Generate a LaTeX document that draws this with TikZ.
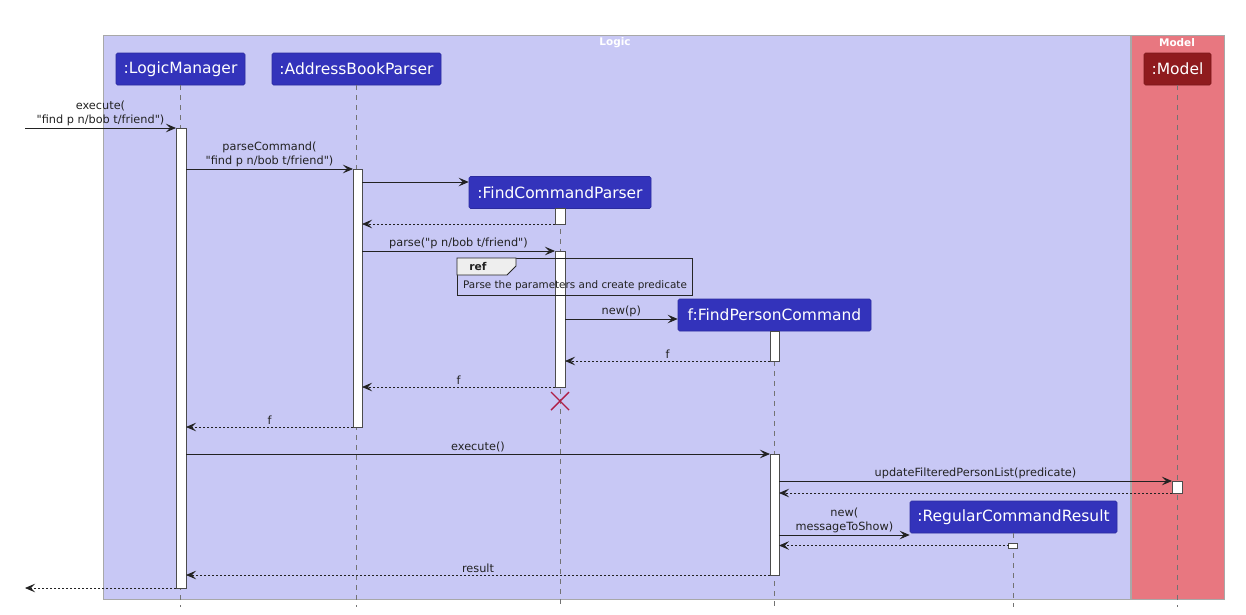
\documentclass[tikz,border=0pt]{standalone}
\usepackage{fontspec}
\newfontfamily\dv{DejaVu Sans}
\definecolor{logicbg}{RGB}{200,200,245}
\definecolor{modelbg}{RGB}{232,119,128}
\definecolor{grpborder}{RGB}{168,168,168}
\definecolor{partblue}{RGB}{51,51,187}
\definecolor{partred}{RGB}{143,27,30}
\definecolor{lline}{RGB}{115,115,115}
\definecolor{txt}{RGB}{34,34,34}
\definecolor{refgray}{RGB}{238,238,238}
\definecolor{xred}{RGB}{175,30,70}
\usetikzlibrary{arrows.meta}
\begin{document}
\begin{tikzpicture}[x=1pt,y=-1pt,
  grp/.style={rectangle, draw=grpborder, line width=1pt, inner sep=0pt, outer sep=0pt, anchor=north west},
  grptitle/.style={text=white, font=\dv\fontsize{10.5}{12}\selectfont\bfseries, inner sep=0pt},
  part/.style={rectangle, rounded corners=1.5pt, fill=partblue, draw=partblue!85!black, text=white,
    font=\dv\fontsize{15.5}{18}\selectfont, inner sep=0pt, minimum height=32pt, line width=0.6pt},
  act/.style={rectangle, draw=black!70, fill=white, minimum width=10pt, inner sep=0pt, outer sep=0pt, line width=0.7pt, anchor=north},
  msg/.style={draw=txt, line width=0.8pt, -{Stealth[length=10pt,width=8.5pt,inset=4pt]}},
  ret/.style={msg, dash pattern=on 2pt off 2pt},
  lbl/.style={font=\dv\fontsize{11.3}{13.3}\selectfont, text=txt, align=center, inner sep=2pt},
  life/.style={draw=lline, dash pattern=on 5pt off 5pt, line width=0.6pt}
]
\dv
\useasboundingbox (0,0) rectangle (1246,614);
% groups
\node[grp, fill=logicbg, minimum width=1027pt, minimum height=564pt] (logic) at (103,35) {};
\node[grp, fill=modelbg, minimum width=93pt, minimum height=564pt] (model) at (1131,35) {};
\node[grptitle] (logict) at (615,43) {Logic};
\node[grptitle] (modelt) at (1177,43) {Model};
% participants
\node[part, minimum width=129pt] (lm) at (180.5,69) {:LogicManager};
\node[part, minimum width=169pt] (abp) at (356.5,69) {:AddressBookParser};
\node[part, minimum width=182pt] (fcp) at (560,192.5) {:FindCommandParser};
\node[part, minimum width=193pt] (fpc) at (774.5,315) {f:FindPersonCommand};
\node[part, minimum width=207pt] (rcr) at (1013.5,517) {:RegularCommandResult};
\node[part, minimum width=67pt, fill=partred, draw=partred!85!black] (mdl) at (1177.5,69) {:Model};
% lifelines
\draw[life] (lm.south) -- (lm.south |- 0,607);
\draw[life] (abp.south) -- (abp.south |- 0,607);
\draw[life] (fcp.south) -- (fcp.south |- 0,607);
\draw[life] (fpc.south) -- (fpc.south |- 0,607);
\draw[life] (rcr.south) -- (rcr.south |- 0,607);
\draw[life] (mdl.south) -- (mdl.south |- 0,607);
% activations
\node[act, minimum height=460pt] (lmA) at (181,128) {};
\node[act, minimum height=258pt, minimum width=9pt] (abpA) at (357.5,169) {};
\node[act, minimum height=16pt] (fcpA1) at (560,208) {};
\node[act, minimum height=136pt] (fcpA2) at (560,251) {};
\node[act, minimum height=30pt, minimum width=9pt] (fpcA1) at (774.5,331) {};
\node[act, minimum height=121pt, minimum width=9pt] (fpcA2) at (774.5,454) {};
\node[act, minimum height=12pt] (mA) at (1177,481) {};
\node[act, minimum height=5pt, minimum width=9pt] (rcrA) at (1013,543) {};
% messages
\coordinate (extin) at (25,128);
\draw[msg] (extin) -- node[lbl,above]{execute(\\"find p n/bob t/friend")} (lmA.north west);
\draw[msg] (lmA.east |- abpA.north) -- node[lbl,above]{parseCommand(\\"find p n/bob t/friend")} (abpA.north west);
\draw[msg] (abpA.east |- 0,182) -- (fcp.west |- 0,182);
\draw[ret] (fcpA1.south west) -- (abpA.east |- fcpA1.south);
\draw[msg] (abpA.east |- fcpA2.north) -- node[lbl,above]{parse("p n/bob t/friend")} (fcpA2.north west);
% ref frame
\node[rectangle, draw=black!85, line width=0.8pt, minimum width=235pt, minimum height=37pt, inner sep=0pt, anchor=north west] (ref) at (457,258) {};
\draw[draw=black!85, fill=refgray, line width=0.8pt] (ref.north west) -- ++(59,0) -- ++(0,8) -- ++(-9,9) -- ++(-50,0) -- cycle;
\node[font=\dv\fontsize{10.7}{12}\selectfont\bfseries, text=txt, inner sep=0pt] (reft) at (478,267) {ref};
\node[font=\dv\fontsize{10.4}{12}\selectfont, text=txt, inner sep=0pt] (refbody) at (575,285.5) {Parse the parameters and create predicate};
\draw[msg] (fcpA2.east |- 0,319) -- node[lbl,above]{new(p)} (fpc.west |- 0,319);
\draw[ret] (fpcA1.south west) -- node[lbl,above]{f} (fcpA2.east |- fpcA1.south);
\draw[ret] (fcpA2.south west) -- node[lbl,above]{f} (abpA.east |- fcpA2.south);
\draw[draw=xred, line width=1.4pt] (fcpA2.south |- 0,401) +(-9,-9) -- +(9,9) +(-9,9) -- +(9,-9);
\draw[ret] (abpA.south west) -- node[lbl,above]{f} (lmA.east |- abpA.south);
\draw[msg] (lmA.east |- fpcA2.north) -- node[lbl,above]{execute()} (fpcA2.north west);
\draw[msg] (fpcA2.east |- mA.north) -- node[lbl,above]{updateFilteredPersonList(predicate)} (mA.north west);
\draw[ret] (mA.south west) -- (fpcA2.east |- mA.south);
\draw[msg] (fpcA2.east |- 0,535) -- node[lbl,above]{new(\\messageToShow)} (rcr.west |- 0,535);
\draw[ret] (rcrA.west) -- (fpcA2.east |- rcrA.west);
\draw[ret] (fpcA2.south west) -- node[lbl,above]{result} (lmA.east |- fpcA2.south);
\coordinate (extout) at (25,588);
\draw[ret] (lmA.south west) -- (extout);
\end{tikzpicture}
\end{document}
